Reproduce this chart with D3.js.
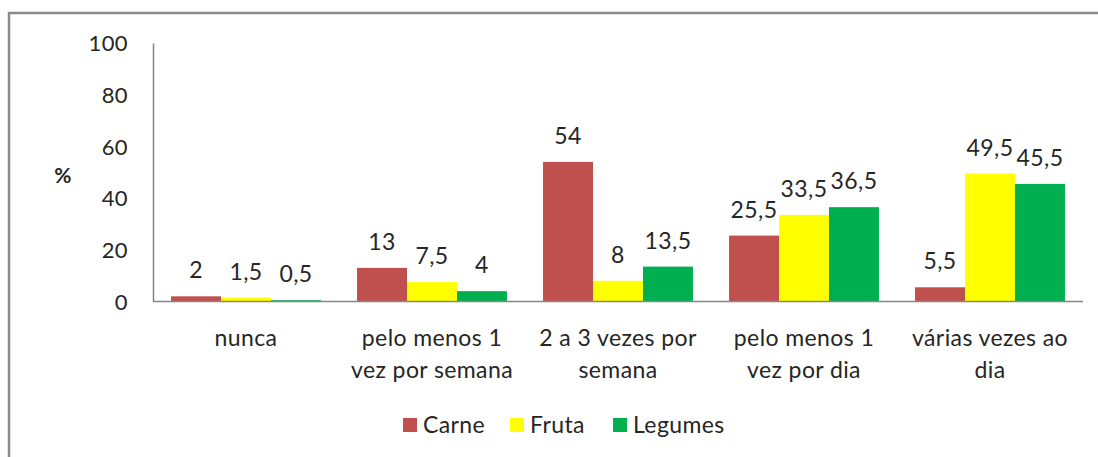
<!DOCTYPE html>
<html>
<head>
<meta charset="utf-8">
<script src="https://cdn.jsdelivr.net/npm/d3@7"></script>
<style>
  body { margin: 0; background: #fff; }
  svg text { font-family: Lato, "Open Sans", sans-serif; fill: #262626; letter-spacing: 0.4px; }
</style>
</head>
<body>
<div id="chart"></div>
<script>
const categories = [
  ['nunca'],
  ['pelo menos 1', 'vez por semana'],
  ['2 a 3 vezes por', 'semana'],
  ['pelo menos 1', 'vez por dia'],
  ['várias vezes ao', 'dia']
];
const seriesNames = ['Carne', 'Fruta', 'Legumes'];
const carne = [2, 13, 54, 25.5, 5.5];
const fruta = [1.5, 7.5, 8, 33.5, 49.5];
const legumes = [0.5, 4, 13.5, 36.5, 45.5];
const yTicks = [0, 20, 40, 60, 80, 100];

const colors = ['#C0504D', '#FFFF00', '#00B050'];
const values = [carne, fruta, legumes];

const width = 1098, height = 457;
const plotLeft = 153, plotRight = 1083, plotTop = 43, plotBottom = 301.5;
const fs = 23;

const svg = d3.select('#chart').append('svg')
  .attr('width', width)
  .attr('height', height);

// outer border
svg.append('path')
  .attr('d', 'M9,' + height + ' V13 H' + width)
  .attr('fill', 'none')
  .attr('stroke', '#8a8a8a')
  .attr('stroke-width', 2.5);

const x0 = d3.scaleBand()
  .domain(d3.range(categories.length))
  .range([plotLeft, plotRight])
  .paddingInner(0.194)
  .paddingOuter(0.097);
const x1 = d3.scaleBand()
  .domain(seriesNames)
  .range([0, x0.bandwidth()]);
const y = d3.scaleLinear().domain([0, 100]).range([plotBottom, plotTop]);

// y axis
const yAxis = d3.axisLeft(y).tickValues(yTicks).tickSize(0).tickPadding(25);
const gy = svg.append('g')
  .attr('transform', 'translate(' + plotLeft + ',0)')
  .call(yAxis);
gy.select('.domain').attr('stroke', '#868686').attr('stroke-width', 1.5);
gy.selectAll('text')
  .attr('font-size', 22)
  .attr('font-family', 'Lato, sans-serif')
  .attr('fill', '#262626')
  .attr('dy', '0.35em');

svg.append('text')
  .attr('x', 63).attr('y', 183)
  .attr('text-anchor', 'middle')
  .attr('font-size', 21)
  .attr('font-weight', 'bold')
  .text('%');

// bars
const groups = svg.selectAll('g.grp')
  .data(categories)
  .enter().append('g')
  .attr('class', 'grp')
  .attr('transform', (d, i) => 'translate(' + x0(i) + ',0)');

groups.each(function (cat, ci) {
  const g = d3.select(this);
  seriesNames.forEach((s, si) => {
    const v = values[si][ci];
    g.append('rect')
      .attr('x', x1(s))
      .attr('y', y(v))
      .attr('width', x1.bandwidth())
      .attr('height', plotBottom - y(v))
      .attr('fill', colors[si]);
    g.append('text')
      .attr('x', x1(s) + x1.bandwidth() / 2)
      .attr('y', y(v) - 18)
      .attr('text-anchor', 'middle')
      .attr('font-size', fs)
      .text(String(v).replace('.', ','));
  });
  g.selectAll('text.cat')
    .data(cat)
    .enter().append('text')
    .attr('class', 'cat')
    .attr('x', x0.bandwidth() / 2)
    .attr('y', (d, i) => 346 + i * 32)
    .attr('text-anchor', 'middle')
    .attr('font-size', fs)
    .text(d => d);
});

// x baseline
svg.append('line')
  .attr('x1', plotLeft).attr('x2', plotRight)
  .attr('y1', plotBottom).attr('y2', plotBottom)
  .attr('stroke', '#868686').attr('stroke-width', 1.5);

// legend
const legendX = [403, 510, 613];
const legend = svg.selectAll('g.leg')
  .data(seriesNames)
  .enter().append('g')
  .attr('class', 'leg')
  .attr('transform', (d, i) => 'translate(' + legendX[i] + ',418)');
legend.append('rect')
  .attr('width', 14).attr('height', 14)
  .attr('fill', (d, i) => colors[i]);
legend.append('text')
  .attr('x', 20).attr('y', 15)
  .attr('font-size', fs)
  .text(d => d);
</script>
</body>
</html>
